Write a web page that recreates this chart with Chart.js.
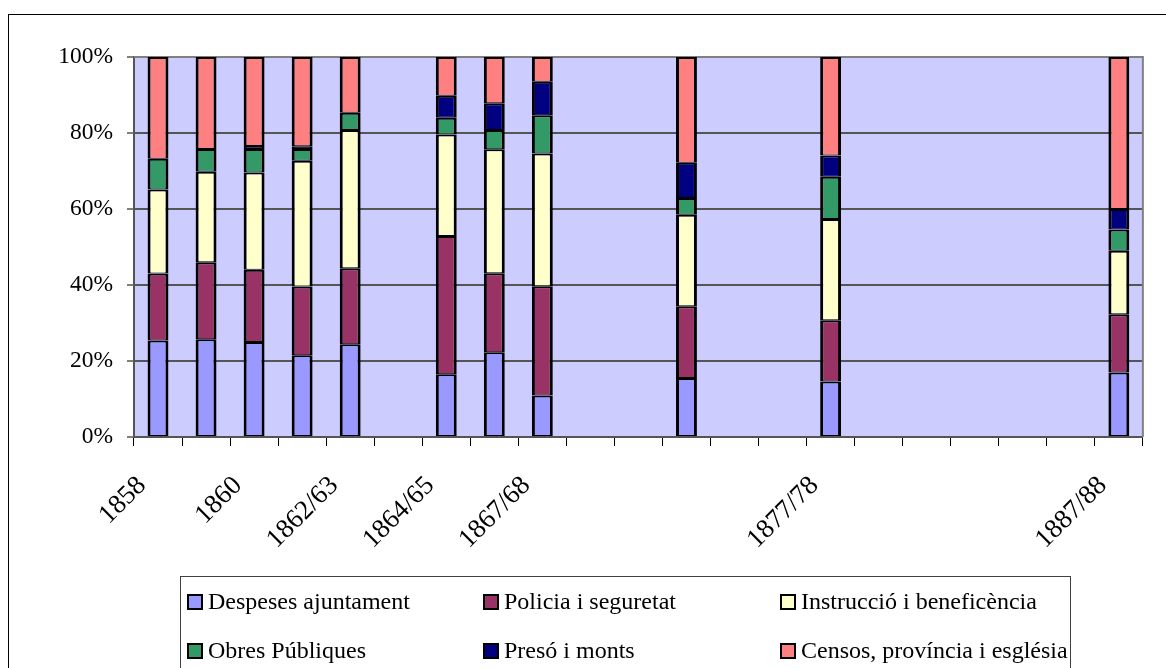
<!DOCTYPE html>
<html>
<head>
<meta charset="utf-8">
<script src="https://cdn.jsdelivr.net/npm/chart.js@4.4.1/dist/chart.umd.min.js"></script>
<style>
  html, body { margin: 0; padding: 0; background: #ffffff; }
  canvas { display: block; }
</style>
</head>
<body>
<canvas id="c" width="1166" height="668"></canvas>
<script>
// ---- data (percent of total per year) ----
const categories = ['1858','1859','1860','1861','1862/63','','1864/65','','1867/68','','','','','','1877/78','','','','','','1887/88'];
const despesesAjuntament   = [25.4, 25.7, 25.0, 21.5, 24.4, null, 16.5, 22.3, 10.9, null, null, 15.5, null, null, 14.6, null, null, null, null, null, 17.0];
const policiaSeguretat     = [17.6, 20.3, 19.0, 18.1, 20.0, null, 36.4, 20.8, 28.8, null, null, 18.9, null, null, 16.1, null, null, null, null, null, 15.3];
const instruccioBenef      = [22.1, 23.8, 25.6, 33.1, 36.4, null, 26.7, 32.6, 34.9, null, null, 24.1, null, null, 26.7, null, null, null, null, null, 16.7];
const obresPubliques       = [ 8.1,  6.0,  6.2,  3.1,  4.5, null,  4.4,  5.1, 10.1, null, null,  4.4, null, null, 11.1, null, null, null, null, null,  5.6];
const presoMonts           = [ 0.0,  0.0,  0.8,  0.7,  0.0, null,  5.8,  7.0,  8.8, null, null,  9.3, null, null,  5.6, null, null, null, null, null,  5.4];
const censosProvEsglesia   = [26.8, 24.2, 23.4, 23.5, 14.7, null, 10.2, 12.2,  6.5, null, null, 27.8, null, null, 25.9, null, null, null, null, null, 40.0];
const seriesNames = ['Despeses ajuntament','Policia i seguretat','Instrucció i beneficència','Obres Públiques','Presó i monts','Censos, província i església'];
const seriesColors = ['#9999FF','#993366','#FFFFCC','#339966','#000080','#FF8080'];
const yTicks = [0, 20, 40, 60, 80, 100];

const FONT = "'Liberation Serif', 'Times New Roman', serif";
const seriesValues = [despesesAjuntament, policiaSeguretat, instruccioBenef, obresPubliques, presoMonts, censosProvEsglesia];

const datasets = seriesNames.map((name, i) => ({
  label: name,
  data: seriesValues[i],
  backgroundColor: seriesColors[i],
  borderColor: '#000000',
  borderWidth: {top: 2, bottom: 1, left: 3, right: 3},
  borderSkipped: false,
  barPercentage: 0.435,
  categoryPercentage: 1.0
}));

const framePlugin = {
  id: 'frame',
  beforeDraw(chart) {
    const ctx = chart.ctx;
    const a = chart.chartArea;
    ctx.save();
    ctx.fillStyle = '#ffffff';
    ctx.fillRect(0, 0, chart.width, chart.height);
    ctx.strokeStyle = '#000000';
    ctx.lineWidth = 1;
    ctx.strokeRect(8.5, 14.5, 1300, 800);
    ctx.fillStyle = '#CCCCFF';
    ctx.fillRect(a.left, a.top, a.right - a.left, a.bottom - a.top);
    ctx.restore();
  },
  beforeDatasetsDraw(chart) {
    const ctx = chart.ctx;
    const a = chart.chartArea;
    ctx.save();
    ctx.strokeStyle = '#808080';
    ctx.lineWidth = 2;
    ctx.beginPath();
    ctx.moveTo(a.left, a.top);
    ctx.lineTo(a.right, a.top);
    ctx.lineTo(a.right, a.bottom);
    ctx.stroke();
    ctx.restore();
  },
  afterDraw(chart) {
    // legend box (3 columns x 2 rows)
    const ctx = chart.ctx;
    ctx.save();
    ctx.strokeStyle = '#404040';
    ctx.lineWidth = 1;
    ctx.strokeRect(180.5, 576.5, 890, 200);
    const colX = [187, 483, 780];
    const rowY = [602, 651];
    ctx.font = '24px ' + FONT;
    ctx.textBaseline = 'middle';
    ctx.textAlign = 'left';
    chart.data.datasets.forEach((ds, i) => {
      const x = colX[i % 3];
      const y = rowY[Math.floor(i / 3)];
      ctx.fillStyle = '#000000';
      ctx.fillRect(x, y - 8, 16, 16);
      ctx.fillStyle = ds.backgroundColor;
      ctx.fillRect(x + 2, y - 6, 12, 12);
      ctx.fillStyle = '#000000';
      ctx.fillText(ds.label, x + 21, y + 1);
    });
    ctx.restore();
  }
};

new Chart(document.getElementById('c'), {
  type: 'bar',
  data: { labels: categories, datasets: datasets },
  plugins: [framePlugin],
  options: {
    responsive: false,
    devicePixelRatio: 1,
    animation: false,
    layout: { padding: { top: 57, left: 0, right: 10, bottom: 0 } },
    plugins: { legend: { display: false }, tooltip: { enabled: false } },
    scales: {
      x: {
        stacked: true,
        offset: true,
        grid: { display: true, drawOnChartArea: false, offset: true, tickLength: 9, tickColor: '#000000', lineWidth: 1 },
        border: { display: true, color: '#555555', width: 2 },
        ticks: {
          autoSkip: false,
          minRotation: 45,
          maxRotation: 45,
          padding: 24,
          labelOffset: -16,
          color: '#000000',
          font: { family: FONT, size: 27 },
          callback: (v, i) => (i % 2 === 0 ? categories[i] : '')
        },
        afterFit: (s) => { s.height = 231; }
      },
      y: {
        stacked: true,
        min: 0,
        max: 100,
        afterBuildTicks: (s) => { s.ticks = yTicks.map(v => ({ value: v })); },
        grid: { color: '#555555', lineWidth: 2, tickLength: 7, tickColor: '#000000', tickWidth: 1 },
        border: { display: true, color: '#555555', width: 2 },
        ticks: {
          padding: 14,
          color: '#000000',
          font: { family: FONT, size: 23.5 },
          callback: (v) => v + '%'
        },
        afterFit: (s) => { s.width = 134; }
      }
    }
  }
});
</script>
</body>
</html>
